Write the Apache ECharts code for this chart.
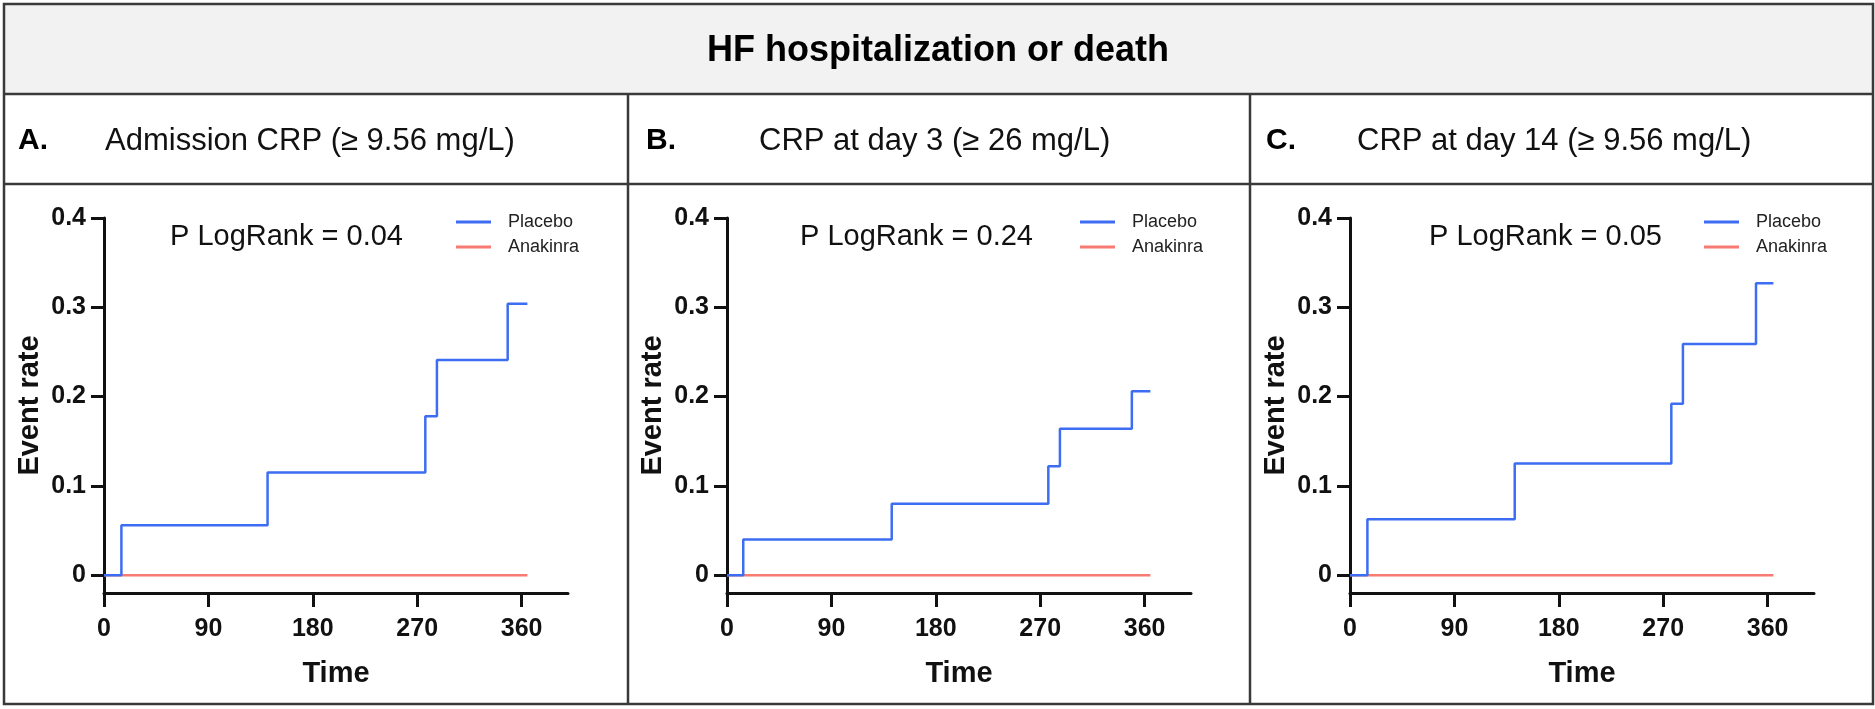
<!DOCTYPE html>
<html>
<head>
<meta charset="utf-8">
<script src="https://cdn.jsdelivr.net/npm/echarts@6/dist/echarts.min.js"></script>
<style>
html,body{margin:0;padding:0;background:#fff;}
#chart{width:1875px;height:709px;}
</style>
</head>
<body>
<div id="chart"></div>
<script>
// ---- data ----
const figureTitle = 'HF hospitalization or death';
const panelLetters = ['A.', 'B.', 'C.'];
const panelTitles = ['Admission CRP (\u2265 9.56 mg/L)', 'CRP at day 3 (\u2265 26 mg/L)', 'CRP at day 14 (\u2265 9.56 mg/L)'];
const pLogRank = ['P LogRank = 0.04', 'P LogRank = 0.24', 'P LogRank = 0.05'];
const seriesNames = ['Placebo', 'Anakinra'];

const placeboTimesA = [0, 15, 141, 277, 287, 348, 365];
const placeboRatesA = [0, 0.056, 0.115, 0.178, 0.241, 0.304, 0.304];
const placeboTimesB = [0, 14, 142, 277, 287, 349, 365];
const placeboRatesB = [0, 0.040, 0.080, 0.122, 0.164, 0.206, 0.206];
const placeboTimesC = [0, 15, 142, 277, 287, 350, 365];
const placeboRatesC = [0, 0.0625, 0.125, 0.192, 0.259, 0.327, 0.327];
const anakinraTimes = [0, 365];
const anakinraRates = [0, 0];

const xTicks = [0, 90, 180, 270, 360];
const yTicks = [0, 0.1, 0.2, 0.3, 0.4];

// ---- layout / style ----
const NARROW = '"Liberation Sans Narrow", "Arial Narrow", "Liberation Sans", Arial, sans-serif';
const SANS = '"Liberation Sans", Arial, Helvetica, sans-serif';
const BLUE = '#3d6df2';
const RED = '#f77b72';
const INK = '#111';
const BORDER = '#3a3a3a';

const gridLefts = [104, 727, 1350];
const gridWidth = 464;
const gridTop = 218;
const gridHeight = 375;
const dividerX = [628, 1250];
const letterX = [18, 646, 1266];
const titleX = [105, 759, 1357];
const logRankX = [170, 800, 1429];
const legendX = [456, 1080, 1704];

const placebo = [
  [placeboTimesA, placeboRatesA],
  [placeboTimesB, placeboRatesB],
  [placeboTimesC, placeboRatesC]
];
const zip = (a, b) => a.map((v, i) => [v, b[i]]);

const grids = [], xAxes = [], yAxes = [], series = [], legends = [];
for (let i = 0; i < 3; i++) {
  grids.push({ left: gridLefts[i], top: gridTop, width: gridWidth, height: gridHeight, containLabel: false });
  xAxes.push({
    type: 'value', gridIndex: i, min: 0, max: 400,
    name: 'Time', nameLocation: 'middle', nameGap: 66,
    nameTextStyle: { fontFamily: NARROW, fontWeight: 'bold', fontSize: 29, color: INK },
    axisLine: { show: true, onZero: false, lineStyle: { color: INK, width: 3 } },
    axisTick: { show: true, length: 14, customValues: xTicks, lineStyle: { color: INK, width: 3 } },
    axisLabel: { customValues: xTicks, margin: 24, fontFamily: NARROW, fontWeight: 'bold', fontSize: 25, color: INK },
    splitLine: { show: false }
  });
  yAxes.push({
    type: 'value', gridIndex: i, min: -0.02, max: 0.4,
    name: 'Event rate', nameLocation: 'middle', nameGap: 60, nameRotate: 90,
    nameTextStyle: { fontFamily: SANS, fontWeight: 'bold', fontSize: 29, color: INK },
    axisLine: { show: true, onZero: false, lineStyle: { color: INK, width: 3 } },
    axisTick: { show: true, length: 13, customValues: yTicks, lineStyle: { color: INK, width: 3 } },
    axisLabel: { customValues: yTicks, margin: 18, fontFamily: NARROW, fontWeight: 'bold', fontSize: 25, color: INK,
      formatter: v => (v === 0 ? '0' : String(Math.round(v * 10) / 10)) },
    splitLine: { show: false }
  });
  series.push({
    name: seriesNames[1], type: 'line', step: 'end', xAxisIndex: i, yAxisIndex: i,
    data: zip(anakinraTimes, anakinraRates), showSymbol: false, symbol: 'none', z: 2,
    lineStyle: { color: RED, width: 2.5 }, itemStyle: { color: RED }, animation: false
  });
  series.push({
    name: seriesNames[0], type: 'line', step: 'end', xAxisIndex: i, yAxisIndex: i,
    data: zip(placebo[i][0], placebo[i][1]), showSymbol: false, symbol: 'none', z: 3,
    lineStyle: { color: BLUE, width: 2.5 }, itemStyle: { color: BLUE }, animation: false
  });
  legends.push({
    data: seriesNames, orient: 'vertical', left: legendX[i], top: 211, padding: 0,
    icon: 'rect', itemWidth: 35, itemHeight: 3, itemGap: 3,
    selectedMode: false,
    textStyle: { fontFamily: NARROW, fontSize: 18, color: '#222', lineHeight: 22, padding: [0, 0, 0, 12] }
  });
}

const graphics = [];
// header band
graphics.push({ type: 'rect', silent: true, z: -10, shape: { x: 4, y: 4, width: 1869, height: 90 }, style: { fill: '#f2f2f2' } });
// table lines
const lineStyle = { stroke: BORDER, lineWidth: 2.5 };
graphics.push({ type: 'rect', silent: true, shape: { x: 4, y: 4, width: 1869, height: 700 }, style: { fill: 'none', stroke: BORDER, lineWidth: 2.5 } });
graphics.push({ type: 'line', silent: true, shape: { x1: 4, y1: 94, x2: 1873, y2: 94 }, style: lineStyle });
graphics.push({ type: 'line', silent: true, shape: { x1: 4, y1: 184, x2: 1873, y2: 184 }, style: lineStyle });
dividerX.forEach(x => graphics.push({ type: 'line', silent: true, shape: { x1: x, y1: 94, x2: x, y2: 704 }, style: lineStyle }));
// title
graphics.push({ type: 'text', silent: true, x: 938, y: 51, style: { text: figureTitle, font: 'bold 36px ' + SANS, fill: '#000', align: 'center', verticalAlign: 'middle' } });
for (let i = 0; i < 3; i++) {
  graphics.push({ type: 'text', silent: true, x: letterX[i], y: 141, style: { text: panelLetters[i], font: 'bold 30px ' + SANS, fill: '#000', align: 'left', verticalAlign: 'middle' } });
  graphics.push({ type: 'text', silent: true, x: titleX[i], y: 141, style: { text: panelTitles[i], font: '31px ' + SANS, fill: '#111', align: 'left', verticalAlign: 'middle' } });
  graphics.push({ type: 'text', silent: true, x: logRankX[i], y: 237, style: { text: pLogRank[i], font: '29px ' + SANS, fill: '#111', align: 'left', verticalAlign: 'middle' } });
}

const chart = echarts.init(document.getElementById('chart'), null, { renderer: 'canvas' });
chart.setOption({
  backgroundColor: '#fff',
  animation: false,
  grid: grids, xAxis: xAxes, yAxis: yAxes, series: series, legend: legends,
  graphic: graphics
});
</script>
</body>
</html>
